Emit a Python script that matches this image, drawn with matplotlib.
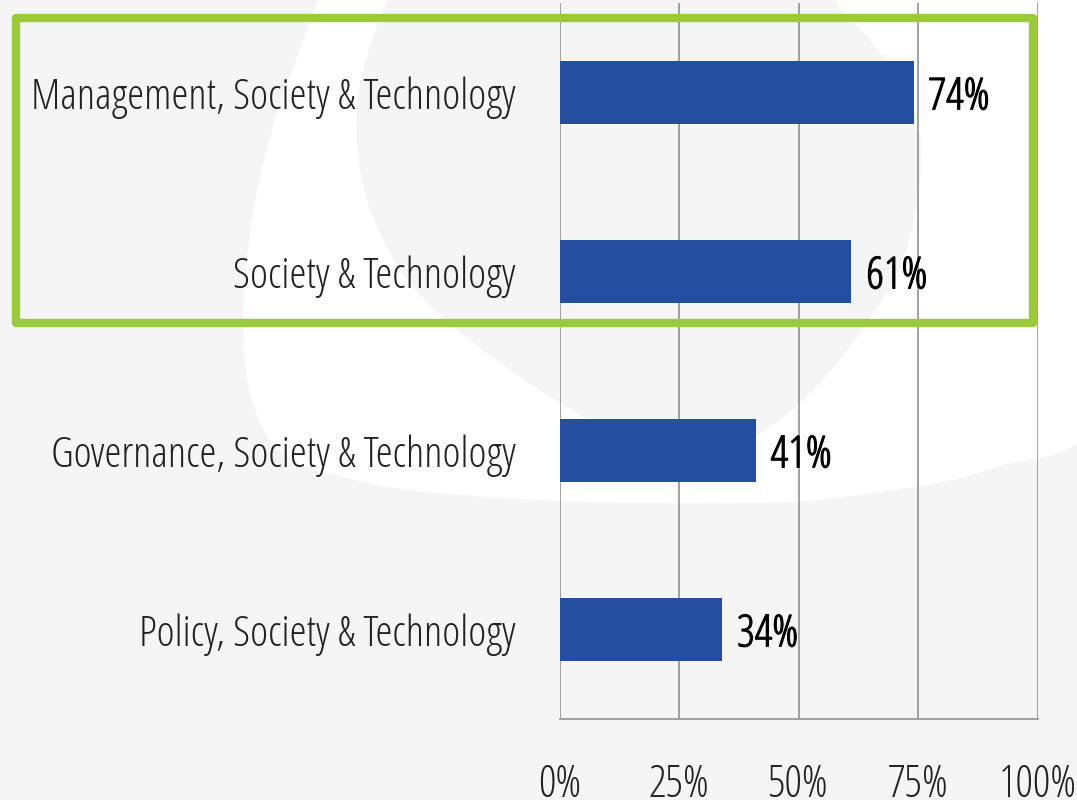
import matplotlib
matplotlib.use("Agg")
import numpy as np
import matplotlib.pyplot as plt
from matplotlib import font_manager
from matplotlib.textpath import TextPath
from matplotlib.font_manager import FontProperties
from matplotlib.patches import Rectangle, Polygon
from matplotlib.transforms import Affine2D
import matplotlib.patheffects as pe

categories = ["Management, Society & Technology", "Society & Technology",
              "Governance, Society & Technology", "Policy, Society & Technology"]
values = [74, 61, 41, 34]
xticks = [0, 25, 50, 75, 100]
xtick_labels = ["0%", "25%", "50%", "75%", "100%"]

path = None
for f in font_manager.fontManager.ttflist:
    if f.fname.endswith("OpenSans-CondLight.ttf"):
        path = f.fname
        break
if path:
    fp_base = FontProperties(fname=path)
else:
    fp_base = FontProperties(family="Roboto Condensed", weight="light")

DPI = 100
W, H = 1077, 800
def fp_size(size):
    p = fp_base.copy()
    p.set_size(size)
    return p

def fit(s, px):
    w = TextPath((0, 0), s, size=100, prop=fp_size(100)).get_extents().width
    return 100 * (px * 72 / DPI) / w

cat_size = fit(categories[0], 481)
tick_size = fit("100%", 73)
val_size = fit("74%", 58)

def smooth_closed(pts, n=12):
    # Catmull-Rom smoothing of a closed outline (decorative background only)
    p = np.asarray(pts, float)
    m = len(p)
    out = []
    t = np.linspace(0, 1, n, endpoint=False)[:, None]
    for i in range(m):
        p0, p1, p2, p3 = p[i - 1], p[i], p[(i + 1) % m], p[(i + 2) % m]
        seg = 0.5 * ((2 * p1) + (-p0 + p2) * t + (2 * p0 - 5 * p1 + 4 * p2 - p3) * t ** 2
                     + (-p0 + 3 * p1 - 3 * p2 + p3) * t ** 3)
        out.append(seg)
    return np.vstack(out)

fig = plt.figure(figsize=(W / DPI, H / DPI), dpi=DPI)
fig.patch.set_facecolor("#f5f5f5")

# faint background swirl (decorative watermark)
px = Affine2D().scale(1 / W, -1 / H).translate(0, 1) + fig.transFigure
swirl_left = [(335, -30), (300, 50), (272, 130), (252, 220), (243, 320), (252, 400),
              (285, 455), (368, 483), (450, 494), (537, 500), (650, 503), (752, 502),
              (733, 487), (649, 452), (560, 403), (480, 348), (420, 295), (382, 238),
              (360, 170), (358, 95), (372, 40), (392, -30)]
swirl_right = [(832, -30), (885, 60), (920, 135), (908, 245), (862, 330), (792, 410),
               (700, 468), (610, 497), (750, 503), (867, 494), (993, 468), (1100, 405),
               (1110, 83), (1055, -30)]
for pts in (swirl_left, swirl_right):
    fig.patches.append(Polygon(smooth_closed(pts), closed=True, transform=px,
                               facecolor="white", edgecolor="none", zorder=-5))

ax = fig.add_axes([559.5 / W, 1 - 719 / H, 478.5 / W, 716 / H])
ax.set_facecolor("none")

y = list(range(len(categories)))
ax.barh(y, values, height=0.35, color="#244fa0", zorder=3)
for yi, v in zip(y, values):
    ax.text(v + 3.1, yi + 0.03, f"{v}%", va="center", ha="left",
            fontproperties=fp_size(val_size), color="black", zorder=4,
            path_effects=[pe.withStroke(linewidth=0.8, foreground="black")])

ax.set_xlim(0, 100)
ax.set_ylim(3.5, -0.5)
ax.set_xticks(xticks)
ax.set_xticklabels(xtick_labels, fontproperties=fp_size(tick_size), color="#222222")
ax.set_yticks(y)
ax.set_yticklabels(categories, fontproperties=fp_size(cat_size), color="#222222")
ax.tick_params(axis="x", length=0, pad=31.5)
ax.tick_params(axis="y", length=0, pad=31.7)
ax.grid(axis="x", color="#999999", linewidth=1.3, zorder=1)
for s in ["top", "right", "left"]:
    ax.spines[s].set_visible(False)
ax.spines["bottom"].set_color("#999999")
ax.spines["bottom"].set_linewidth(1.3)

fig.patches.append(Rectangle((16 / W, 1 - 323.5 / H), (1033 - 16) / W,
                             (323.5 - 18.5) / H, transform=fig.transFigure,
                             fill=False, edgecolor="#9aca3c", linewidth=6,
                             joinstyle="round", zorder=10))

fig.savefig("out.png", dpi=DPI, facecolor=fig.get_facecolor())
